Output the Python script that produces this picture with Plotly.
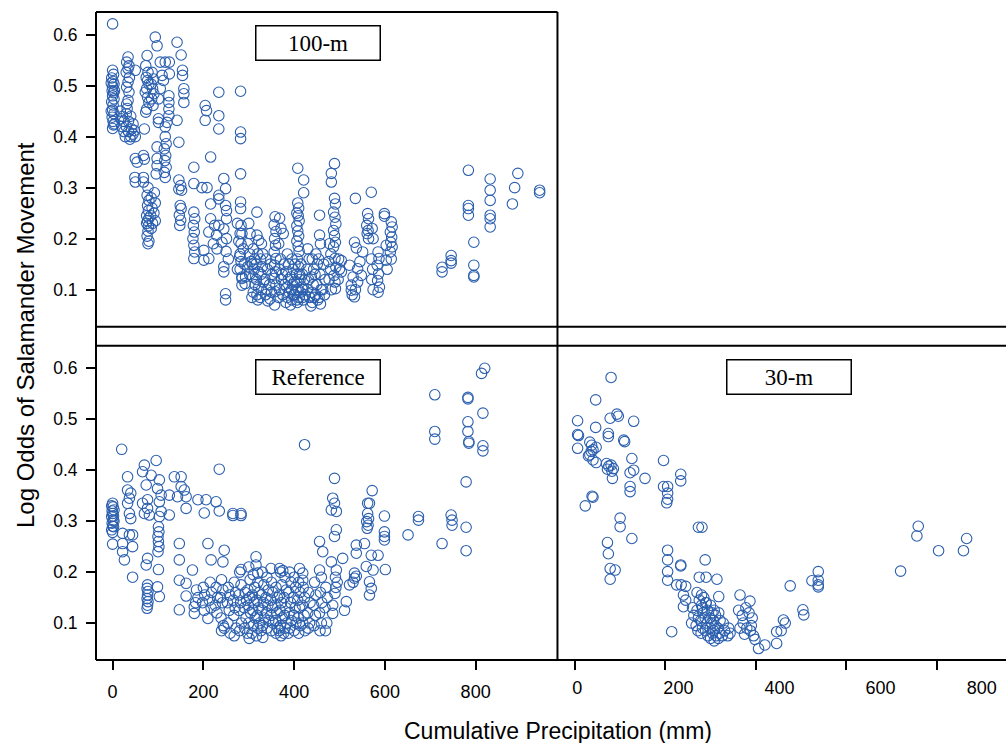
import plotly.graph_objects as go

BLUE = "#2b5fae"

# ---------------- data: (cumulative precipitation mm, log odds) ----------------
m100_left = [
    (0, .621),
    (0, .530), (2, .522), (-2, .515), (1, .508), (3, .503), (0, .497), (-1, .490), (2, .486), (0, .480),
    (3, .474), (-2, .468), (1, .462), (0, .452), (3, .445), (-1, .438), (1, .430), (2, .423), (0, .416),
    (-3, .505), (4, .490), (-3, .450), (4, .425),
    (34, .556), (31, .546), (36, .539), (34, .533), (30, .526), (37, .516), (34, .507), (31, .497),
    (36, .487), (34, .471), (31, .464), (50, .530),
    (17, .450), (22, .440), (25, .430), (30, .420), (35, .410), (40, .400), (45, .405), (50, .400),
    (25, .410), (30, .445), (35, .430), (40, .440), (45, .425), (20, .420), (28, .400), (38, .395),
    (42, .415), (32, .455), (18, .435), (48, .412), (70, .415),
    (76, .559), (73, .539), (78, .526), (74, .516), (77, .510), (80, .503), (75, .494), (72, .487),
    (77, .477), (80, .467), (75, .454), (73, .448),
    (87, .526), (90, .513), (85, .503), (88, .494), (91, .484), (86, .474), (89, .461),
    (94, .595), (98, .578),
    (105, .546), (116, .546), (125, .546), (109, .520), (112, .510), (125, .523), (105, .494),
    (101, .474), (101, .435), (101, .428), (124, .480), (124, .467), (124, .454), (124, .441),
    (120, .428), (116, .419),
    (142, .585), (151, .560), (154, .530), (154, .520), (157, .494), (157, .484), (157, .467),
    (142, .432), (146, .389),
    (116, .400), (118, .386), (114, .376), (117, .363), (115, .353), (118, .340), (114, .330), (116, .320),
    (98, .380), (98, .357), (98, .343), (96, .327),
    (50, .357), (54, .350), (68, .363), (70, .356),
    (49, .320), (50, .311), (68, .320), (68, .311),
    (78, .300), (76, .285), (80, .275), (77, .265), (79, .255), (75, .245), (80, .240), (77, .235),
    (75, .230), (79, .225), (78, .215), (76, .205), (80, .195), (78, .190),
    (85, .280), (87, .260), (84, .245), (88, .230), (85, .220),
    (92, .290), (94, .270), (91, .250), (94, .235),
    (146, .315), (146, .297), (149, .265), (151, .259), (147, .246), (150, .236), (148, .226),
    (150, .304), (152, .295),
]

m100_mid = [
    (179, .340), (179, .308), (197, .300), (208, .300), (216, .360), (204, .461), (207, .451),
    (204, .432), (234, .487), (234, .441), (234, .415), (282, .489), (282, .409), (282, .396),
    (282, .327),
    (245, .318), (249, .298), (234, .285), (234, .278), (216, .268), (249, .265), (251, .255),
    (251, .239), (245, .219), (234, .226), (225, .226), (216, .239), (212, .213), (229, .207),
    (241, .193), (251, .200),
    (179, .252), (181, .239), (178, .226), (180, .213), (177, .200), (179, .187), (181, .174), (179, .161),
    (201, .177), (201, .158), (212, .161), (230, .180), (222, .190), (250, .175), (255, .160),
    (245, .145), (245, .135), (249, .092), (249, .080),
    (282, .272), (282, .259), (283, .226), (281, .210), (283, .190), (281, .170), (283, .155), (281, .140),
    (275, .230), (285, .210), (278, .195), (288, .180), (280, .165), (290, .150), (275, .140),
    (285, .125), (292, .112), (285, .122), (285, .109), (293, .125),
    (300, .230), (303, .210), (298, .190), (302, .170), (305, .155), (298, .145), (302, .130),
    (310, .180), (313, .160), (308, .150), (312, .140), (309, .125), (314, .110), (310, .095), (307, .085),
    (318, .252), (318, .207), (322, .197), (320, .170), (316, .150), (321, .135), (317, .120),
    (322, .105), (318, .090), (320, .080),
    (328, .190), (331, .170), (326, .160), (330, .145), (327, .130), (332, .115), (328, .100), (325, .085),
]

m100_dense = [
    (338, .160), (341, .140), (336, .120), (340, .100), (337, .090), (342, .078),
    (348, .150), (351, .130), (346, .110), (350, .095), (347, .082), (357, .070),
    (358, .243), (356, .227), (360, .214), (357, .200), (359, .187), (356, .174), (360, .161),
    (357, .148), (359, .135), (356, .122), (360, .109), (358, .096),
    (368, .240), (371, .220), (366, .190), (370, .160), (367, .140), (372, .120), (368, .100), (366, .085),
    (376, .210), (378, .150), (374, .130), (379, .110), (375, .090),
    (385, .170), (388, .150), (383, .135), (387, .120), (384, .105), (389, .095), (385, .085), (382, .075),
    (395, .160), (398, .140), (393, .125), (397, .110), (394, .100), (399, .090), (395, .080), (392, .070),
    (402, .150), (405, .130), (400, .115), (404, .100), (401, .090), (406, .080),
    (408, .338), (408, .270), (410, .260), (406, .250), (409, .245), (411, .235), (406, .225),
    (408, .215), (410, .205), (406, .195), (409, .185), (411, .175), (407, .160), (410, .145),
    (412, .130), (406, .115), (409, .100), (411, .085), (407, .075),
    (415, .150), (418, .130), (413, .120), (417, .105), (414, .095), (419, .085),
    (421, .315), (421, .290), (423, .120), (419, .100), (424, .090), (420, .080),
    (430, .180), (433, .160), (428, .140), (432, .120), (429, .100), (434, .085),
    (440, .160), (443, .140), (438, .125), (442, .110), (439, .095), (444, .085), (440, .075), (437, .068),
    (448, .170), (451, .150), (446, .130), (450, .110), (447, .090), (452, .080),
    (456, .246), (456, .207), (458, .190), (454, .160), (457, .130), (459, .100), (455, .085), (458, .072),
    (465, .150), (468, .120), (463, .100), (467, .090),
    (478, .190), (481, .170), (476, .155), (480, .140), (477, .120), (482, .100),
    (482, .328), (482, .311),
    (489, .347), (489, .279), (491, .268), (487, .252), (490, .242), (492, .229), (487, .216),
    (489, .206), (491, .193), (487, .184), (490, .161), (492, .144), (488, .128), (490, .115), (491, .102),
    (498, .160), (500, .140), (497, .120), (504, .157), (504, .135),
    (526, .109), (533, .193), (537, .182), (551, .174), (522, .148), (540, .141), (548, .128),
    (526, .099), (533, .086), (540, .115), (530, .125), (545, .155), (528, .090), (535, .100),
    (535, .279), (570, .291),
    (562, .249), (564, .239), (560, .226), (563, .216), (561, .210), (564, .200),
    (572, .220), (574, .200), (570, .160), (573, .140), (571, .120), (574, .100),
    (585, .174), (587, .161), (583, .148), (586, .131), (584, .118), (588, .105), (585, .095),
    (599, .249), (599, .244), (603, .187), (603, .158), (605, .140),
    (614, .233), (616, .223), (612, .213), (615, .203), (613, .193), (616, .184), (612, .174), (614, .160),
]

m100_right = [
    (726, .135), (726, .144), (746, .167), (746, .157), (746, .152), (784, .334), (784, .265),
    (784, .259), (784, .246), (796, .193), (796, .148), (796, .128), (796, .125), (832, .317),
    (832, .295), (832, .275), (832, .246), (832, .239), (832, .223), (881, .268), (886, .300),
    (893, .328), (941, .295), (941, .290),
]

ref_left = [
    (0, .335), (-2, .330), (1, .328), (3, .322), (-1, .320), (0, .315), (2, .310), (-2, .309),
    (1, .302), (3, .300), (-1, .296), (0, .290), (2, .289), (-2, .283), (0, .278), (0, .255),
    (20, .441),
    (22, .276), (22, .256), (22, .240), (26, .224), (37, .273), (44, .273), (44, .250), (44, .190),
    (33, .387), (33, .361), (37, .345), (33, .335), (37, .315), (40, .305), (40, .355),
    (70, .410), (66, .397), (85, .390), (96, .419), (74, .371), (66, .335), (77, .342), (70, .315),
    (81, .312), (77, .325),
    (103, .381), (99, .364), (107, .351), (103, .338), (107, .319), (103, .309), (125, .351),
    (125, .312), (136, .387), (151, .387), (151, .368), (158, .361), (143, .348), (162, .348),
    (162, .325), (188, .342), (206, .342), (202, .316), (228, .338), (235, .402), (235, .320),
    (265, .315), (283, .315), (265, .311), (283, .311),
    (101, .289), (102, .279), (100, .270), (101, .260), (102, .250), (100, .240),
    (77, .227), (74, .214), (101, .205), (99, .171), (103, .152),
    (77, .175), (76, .168), (78, .162), (77, .155), (76, .148), (78, .142), (77, .135), (76, .129),
    (147, .256), (147, .224), (147, .184), (162, .178), (147, .126), (176, .204), (162, .153),
    (180, .132), (180, .119), (210, .256), (217, .224), (210, .109), (246, .243), (243, .220),
    (246, .090), (283, .205),
]

ref_dense = [
    (185, .165), (188, .150), (183, .140),
    (200, .170), (203, .155), (198, .140), (202, .125),
    (215, .180), (218, .160), (213, .145), (217, .130),
    (228, .170), (231, .150), (226, .135), (230, .120),
    (240, .185), (243, .165), (238, .150), (242, .140), (239, .110), (244, .095), (240, .085),
    (255, .170), (258, .155), (253, .140), (257, .125), (254, .100), (259, .080),
    (268, .180), (271, .160), (266, .145), (270, .130), (267, .115), (272, .090), (268, .075),
    (280, .200), (283, .175), (278, .155), (282, .140), (279, .125), (284, .100), (280, .085),
    (292, .160), (295, .145), (290, .130), (294, .110), (291, .090),
    (300, .210), (303, .185), (298, .165), (302, .150), (299, .135), (304, .120), (300, .100),
    (297, .080), (301, .070),
    (310, .195), (313, .170), (308, .155), (312, .140), (309, .125), (314, .110), (310, .095), (307, .080),
    (320, .180), (323, .160), (318, .145), (322, .130), (319, .115), (324, .100), (320, .090), (317, .075),
    (330, .200), (333, .175), (328, .155), (332, .140), (329, .125), (334, .110), (330, .095),
    (327, .085), (331, .072),
    (340, .190), (343, .165), (338, .150), (342, .135), (339, .120), (344, .105), (340, .090),
    (350, .180), (353, .160), (348, .145), (352, .130), (349, .115), (354, .100), (350, .085),
    (360, .170), (363, .150), (358, .135), (362, .120), (359, .105), (364, .090), (360, .080),
    (370, .200), (373, .175), (368, .155), (372, .140), (369, .125), (374, .110), (370, .095),
    (367, .085), (371, .075),
    (380, .190), (383, .165), (378, .150), (382, .130), (379, .115), (384, .100), (380, .090), (377, .080),
    (390, .200), (393, .180), (388, .160), (392, .140), (389, .120), (394, .105), (390, .090), (387, .080),
    (400, .190), (403, .170), (398, .150), (402, .130), (399, .115), (404, .100), (400, .085),
    (410, .180), (413, .160), (408, .145), (412, .130), (409, .110), (414, .095), (410, .080),
    (420, .170), (423, .150), (418, .135), (422, .115), (419, .100), (424, .085),
    (432, .160), (435, .140), (430, .120), (434, .100), (431, .090),
    (445, .180), (448, .155), (443, .135), (447, .115), (444, .095),
    (458, .160), (461, .140), (456, .120), (460, .100), (457, .085),
    (470, .170), (473, .150), (468, .130), (472, .100), (469, .085),
]

ref_right = [
    (316, .230), (316, .214), (320, .198), (349, .207), (368, .207), (375, .203), (412, .207),
    (423, .450), (419, .198), (419, .184), (456, .260), (463, .240), (456, .204), (460, .190),
    (489, .384), (485, .345), (489, .335), (482, .322), (493, .319), (493, .283), (489, .270),
    (482, .220), (493, .204), (491, .190), (495, .180), (492, .170), (490, .158), (485, .135), (485, .119),
    (507, .227), (515, .142), (511, .125), (522, .175), (537, .253), (537, .237), (555, .256),
    (533, .188), (533, .198), (530, .180), (537, .192),
    (562, .335), (562, .315), (564, .305), (560, .299), (563, .292), (561, .286), (572, .360), (566, .335),
    (570, .233), (585, .233), (559, .211), (574, .204), (566, .181), (570, .168), (566, .155),
    (599, .310), (599, .279), (599, .270), (599, .263), (601, .205),
    (651, .273), (674, .309), (674, .302), (726, .256), (746, .312), (748, .302), (748, .292),
    (779, .288), (779, .242), (779, .377),
    (710, .548), (710, .476), (710, .461), (783, .543), (783, .540), (783, .495), (783, .476),
    (785, .456), (785, .453), (816, .512), (816, .448), (816, .438), (820, .600), (813, .590),
]

m30_upper = [
    (80, .582), (46, .538), (6, .497), (6, .470), (8, .468), (6, .443), (46, .484), (78, .502),
    (93, .510), (96, .506), (130, .496), (74, .472), (74, .466), (108, .459), (110, .456),
    (33, .455), (37, .449), (40, .440), (47, .445), (33, .430), (40, .420), (47, .415), (30, .428),
    (36, .437),
    (70, .413), (75, .408), (80, .410), (85, .403), (72, .402), (82, .398), (83, .384),
    (126, .423), (130, .400), (122, .395), (155, .384), (122, .368), (122, .358),
    (38, .349), (40, .347), (23, .330),
    (196, .419), (196, .368), (205, .368), (205, .355), (205, .343), (203, .336), (234, .392), (234, .379),
    (100, .306), (100, .289), (126, .266), (72, .258), (74, .236), (78, .207), (89, .204), (78, .186),
    (273, .288), (281, .288),
]

m30_lower = [
    (205, .243), (205, .224), (205, .201), (205, .184), (234, .214), (234, .212), (288, .224), (214, .083),
    (225, .175), (235, .175), (245, .172), (240, .155), (245, .145), (240, .132),
    (275, .190), (290, .190), (270, .160), (280, .155), (285, .150), (275, .145), (290, .140), (282, .130),
    (314, .186), (318, .152),
    (260, .130), (263, .115), (258, .100),
    (270, .125), (273, .110), (268, .095), (272, .085),
    (280, .135), (283, .120), (278, .105), (282, .090), (279, .080),
    (290, .140), (293, .125), (288, .110), (292, .100), (289, .085), (294, .075),
    (300, .135), (303, .120), (298, .110), (302, .100), (299, .090), (304, .080), (300, .070),
    (308, .125), (311, .115), (306, .105), (310, .095), (307, .085), (312, .075), (308, .065),
    (318, .120), (321, .105), (316, .090), (320, .080), (317, .070),
    (328, .100), (331, .085), (326, .075),
    (340, .090), (343, .080), (338, .075),
    (365, .155), (387, .143),
    (362, .125), (370, .115), (378, .130), (385, .120), (392, .110), (372, .100), (380, .090),
    (388, .085), (395, .075), (365, .090), (375, .078), (398, .068), (390, .095),
    (420, .057), (406, .050), (446, .060), (446, .083), (456, .085), (461, .106), (465, .100),
    (476, .173), (504, .126), (506, .116),
    (524, .183), (538, .201), (538, .184), (538, .175), (538, .171),
    (720, .202), (756, .271), (759, .290), (804, .242), (859, .242), (866, .266),
]

panel_labels = ["100-m", "Reference", "30-m"]
y_ticks = [0.1, 0.2, 0.3, 0.4, 0.5, 0.6]
x_ticks = [0, 200, 400, 600, 800]
x_title = "Cumulative Precipitation (mm)"
y_title = "Log Odds of Salamander Movement"

m100 = m100_left + m100_mid + m100_dense + m100_right
ref = ref_left + ref_dense + ref_right
m30 = m30_upper + m30_lower

# ---------------- figure ----------------
XD = 0.5071          # split between left and right column
YT0 = 0.5144         # bottom of top row
YB1 = 0.4850         # top of bottom row
YR = [0.0275, 0.6443]
XR_L = [-36.6, 980.3]
XR_R = [-38.5, 953.0]
XR_LAB = [-39.2, 848.1]

marker = dict(symbol="circle-open", size=10.5, color=BLUE, line=dict(width=1.1, color=BLUE))

fig = go.Figure()
for pts, xa, ya in [(m100, "x", "y"), (ref, "x2", "y2"), (m30, "x3", "y3")]:
    fig.add_trace(go.Scatter(x=[p[0] for p in pts], y=[p[1] for p in pts],
                             xaxis=xa, yaxis=ya, mode="markers", marker=marker,
                             showlegend=False, cliponaxis=True))
fig.add_trace(go.Scatter(x=[None], y=[None], xaxis="x4", yaxis="y3", mode="markers",
                         showlegend=False, hoverinfo="skip"))

tickfont_y = dict(family="Liberation Sans, Arial, sans-serif", size=17.5, color="black")
tickfont_x = dict(family="Liberation Sans, Arial, sans-serif", size=18, color="black")

yaxis_common = dict(range=YR, tickvals=y_ticks, ticktext=[f"{v:.1f}" for v in y_ticks],
                    ticks="outside", ticklen=9, tickwidth=1.5, tickcolor="black",
                    tickfont=tickfont_y, showgrid=False, zeroline=False, showline=False,
                    ticklabelstandoff=5)
xaxis_common = dict(showgrid=False, zeroline=False, showline=False)

fig.update_layout(
    width=1006, height=743,
    margin=dict(l=96, r=0, t=12, b=83),
    paper_bgcolor="white", plot_bgcolor="white",
    showlegend=False,
    xaxis=dict(domain=[0, XD], anchor="y", range=XR_L, showticklabels=False, ticks="", **xaxis_common),
    yaxis=dict(domain=[YT0, 1], anchor="x", **yaxis_common),
    xaxis2=dict(domain=[0, XD], anchor="y2", range=XR_L, tickvals=x_ticks, ticks="outside",
                ticklen=9, tickwidth=1.5, tickcolor="black", tickfont=tickfont_x,
                ticklabelstandoff=6, **xaxis_common),
    yaxis2=dict(domain=[0, YB1], anchor="x2", **yaxis_common),
    xaxis3=dict(domain=[XD, 1], anchor="y3", range=XR_R, tickvals=x_ticks, ticks="outside",
                ticklen=9, tickwidth=1.5, tickcolor="black", showticklabels=False, **xaxis_common),
    yaxis3=dict(domain=[0, YB1], anchor="x3", range=YR, showticklabels=False, ticks="",
                showgrid=False, zeroline=False, showline=False),
    xaxis4=dict(overlaying="x3", anchor="y3", side="bottom", range=XR_LAB, tickvals=x_ticks,
                ticks="", tickfont=tickfont_x, ticklabelstandoff=15, **xaxis_common),
)

# frame lines
LW = 2
frame = [
    (0, 0, 0, 1), (0, 1, XD, 1), (XD, 0, XD, 1),
    (0, YT0, 1, YT0), (0, YB1, 1, YB1), (0, 0, 1, 0),
]
for x0, y0, x1, y1 in frame:
    fig.add_shape(type="line", xref="paper", yref="paper", x0=x0, y0=y0, x1=x1, y1=y1,
                  line=dict(color="black", width=LW), layer="above")

# panel label boxes
box_pos = [(0.2444, 0.9519), (0.2444, 0.4360), (0.7615, 0.4360)]
for lab, (bx, by) in zip(panel_labels, box_pos):
    fig.add_annotation(text=lab, xref="paper", yref="paper", x=bx, y=by,
                       xanchor="center", yanchor="middle", showarrow=False,
                       font=dict(family="Liberation Serif, Times New Roman, serif", size=23, color="black"),
                       bgcolor="white", bordercolor="black", borderwidth=1.5, borderpad=0,
                       width=123, height=33)

# axis titles
fig.add_annotation(text=x_title, xref="paper", yref="paper", x=0.5077, y=-0.1096,
                   xanchor="center", yanchor="middle", showarrow=False,
                   font=dict(family="Liberation Sans, Arial, sans-serif", size=23, color="black"))
fig.add_annotation(text=y_title, xref="paper", yref="paper", x=-0.0780, y=0.5015,
                   xanchor="center", yanchor="middle", showarrow=False, textangle=-90,
                   font=dict(family="Liberation Sans, Arial, sans-serif", size=24, color="black"))

fig.write_html("out.html", config={"displayModeBar": False},
               post_script="document.body.style.margin='0';document.body.style.overflow='hidden';")
